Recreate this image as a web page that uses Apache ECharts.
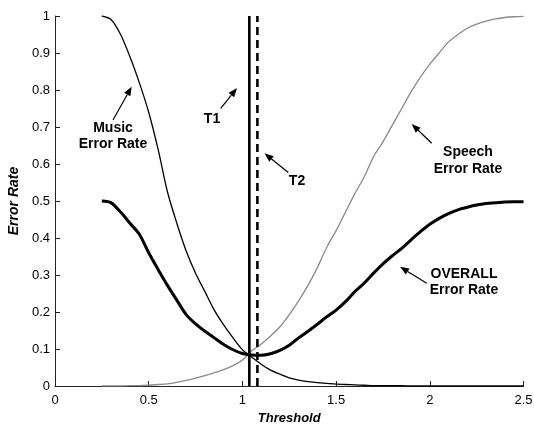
<!DOCTYPE html>
<html>
<head>
<meta charset="utf-8">
<script src="https://cdn.jsdelivr.net/npm/echarts@6/dist/echarts.min.js"></script>
<style>html,body{margin:0;padding:0;background:#fff}#c{width:534px;height:424px}</style>
</head>
<body>
<div id="c"></div>
<script>
const thresholds = [0.25,0.30,0.35,0.40,0.45,0.50,0.55,0.60,0.65,0.70,0.75,0.80,0.85,0.90,0.95,1.00,1.05,1.10,1.15,1.20,1.25,1.30,1.35,1.40,1.45,1.50,1.55,1.60,1.65,1.70,1.75,1.80,1.85,1.90,1.95,2.00,2.05,2.10,2.15,2.20,2.25,2.30,2.35,2.40,2.45,2.50];
const musicErr = [1.0,0.99,0.95,0.89,0.82,0.74,0.64,0.525,0.44,0.365,0.305,0.255,0.205,0.165,0.13,0.098,0.078,0.059,0.043,0.032,0.022,0.016,0.012,0.009,0.007,0.005,0.004,0.003,0.002,0.001,0.001,0.001,0.001,0,0,0,0,0,0,0,0,0,0,0,0,0];
const speechErr = [0,0,0,0.001,0.001,0.002,0.004,0.006,0.01,0.015,0.021,0.028,0.036,0.044,0.055,0.07,0.095,0.113,0.135,0.16,0.193,0.23,0.272,0.32,0.375,0.42,0.47,0.52,0.565,0.62,0.66,0.705,0.75,0.795,0.835,0.87,0.90,0.93,0.95,0.967,0.978,0.986,0.992,0.996,0.998,0.999];
const overallErr = [0.50,0.495,0.47,0.44,0.41,0.36,0.315,0.272,0.232,0.193,0.168,0.148,0.13,0.112,0.098,0.088,0.084,0.083,0.087,0.096,0.11,0.13,0.148,0.167,0.187,0.205,0.228,0.255,0.278,0.305,0.33,0.352,0.372,0.395,0.417,0.437,0.453,0.466,0.476,0.483,0.489,0.493,0.495,0.497,0.498,0.498];
const T1 = 1.037;
const T2 = 1.08;
const xTickLabels = ["0","0.5","1","1.5","2","2.5"];
const yTickLabels = ["0","0.1","0.2","0.3","0.4","0.5","0.6","0.7","0.8","0.9","1"];

const FONT = '"Liberation Sans", Arial, sans-serif';
const chart = echarts.init(document.getElementById('c'), null, {renderer:'canvas'});
const zip = (xs, ys) => xs.map((x,i)=>[x, ys[i]]);

const axisCommon = {
  axisLine:{show:true, lineStyle:{color:'#222', width:1}},
  axisTick:{show:true, inside:true, length:5, lineStyle:{color:'#222', width:1}},
  splitLine:{show:false},
};

const notes = [
  {lines:['Music','Error Rate'], x:113, y:128, tail:[113,120], tip:[131.7,86.7]},
  {lines:['T1'], x:212, y:119, tail:[220.7,108.3], tip:[237,88]},
  {lines:['T2'], x:297, y:181, tail:[288.3,172.5], tip:[264.5,153.3]},
  {lines:['Speech','Error Rate'], x:468, y:152.5, tail:[431.7,143.3], tip:[411.7,124]},
  {lines:['OVERALL','Error Rate'], x:464, y:274, tail:[426.7,283.3], tip:[400,266.7]},
];
const graphics = [];
notes.forEach(n => {
  n.lines.forEach((t,i) => {
    graphics.push({type:'text', x:n.x, y:n.y + i*16.5, style:{text:t, font:'bold 14px ' + FONT, fill:'#000', textAlign:'center', textVerticalAlign:'middle'}});
  });
  const [x1,y1] = n.tail, [x2,y2] = n.tip;
  const ang = Math.atan2(y2-y1, x2-x1);
  const L = 9, W = 3.5;
  const bx = x2 - L*Math.cos(ang), by = y2 - L*Math.sin(ang);
  graphics.push({type:'line', shape:{x1:x1,y1:y1,x2:bx,y2:by}, style:{stroke:'#000', lineWidth:1.2}});
  graphics.push({type:'polygon', shape:{points:[[x2,y2],[bx + W*Math.sin(ang), by - W*Math.cos(ang)],[bx - W*Math.sin(ang), by + W*Math.cos(ang)]]}, style:{fill:'#000'}});
});

chart.setOption({
  animation:false,
  backgroundColor:'#fff',
  grid:{left:55, right:10.5, top:16, bottom:38, containLabel:false, outerBoundsMode:'none'},
  xAxis:Object.assign({}, axisCommon, {
    type:'value', min:0, max:2.5, interval:0.5,
    name:'Threshold', nameLocation:'middle', nameGap:23,
    nameTextStyle:{fontFamily:FONT, fontSize:13, fontWeight:'bold', fontStyle:'italic', color:'#000'},
    axisLabel:{fontFamily:FONT, fontSize:13, color:'#000', margin:8, formatter:(v)=>xTickLabels[Math.round(v/0.5)]}
  }),
  yAxis:Object.assign({}, axisCommon, {
    type:'value', min:0, max:1, interval:0.1,
    name:'Error Rate', nameLocation:'middle', nameGap:33,
    nameTextStyle:{fontFamily:FONT, fontSize:14, fontWeight:'bold', fontStyle:'italic', color:'#000'},
    axisLabel:{fontFamily:FONT, fontSize:13, color:'#000', margin:5, formatter:(v)=>yTickLabels[Math.round(v/0.1)]}
  }),
  series:[
    {type:'line', name:'Speech', data:zip(thresholds, speechErr), showSymbol:false, smooth:0.3, lineStyle:{color:'#8a8a8a', width:1.3}, z:2},
    {type:'line', name:'Music', data:zip(thresholds, musicErr), showSymbol:false, smooth:0.3, lineStyle:{color:'#000', width:1.3}, z:3},
    {type:'line', name:'Overall', data:zip(thresholds, overallErr), showSymbol:false, smooth:0.3, lineStyle:{color:'#000', width:3}, z:4},
    {type:'line', name:'T1', data:[[T1,0],[T1,1]], showSymbol:false, lineStyle:{color:'#000', width:2.6}, z:5},
    {type:'line', name:'T2', data:[[T2,0],[T2,1]], showSymbol:false, lineStyle:{color:'#000', width:2.6, type:[8,5]}, z:5},
  ],
  graphic:graphics
});
</script>
</body>
</html>
